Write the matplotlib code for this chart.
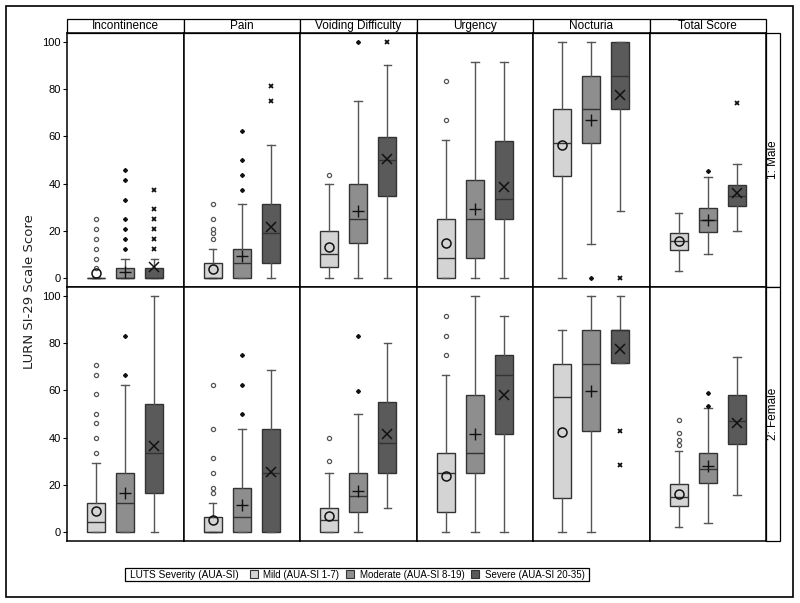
import matplotlib
matplotlib.use("Agg")
import matplotlib.pyplot as plt
from matplotlib.patches import Rectangle, Patch

domains = ["Incontinence", "Pain", "Voiding Difficulty", "Urgency", "Nocturia", "Total Score"]
sexes = ["1: Male", "2: Female"]
severity = ["Mild (AUA-SI 1-7)", "Moderate (AUA-SI 8-19)", "Severe (AUA-SI 20-35)"]

# box stats per domain: [mild, moderate, severe]
male_q1 = [[0, 0, 0], [0, 0, 6.2], [4.8, 15, 34.9], [0, 8.3, 25], [43.2, 57.3, 71.5], [11.9, 19.6, 30.6]]
male_med = [[0, 0, 0], [0, 6.2, 18.9], [10, 25, 50], [8.3, 25, 33.3], [57.3, 71.5, 85.7], [15.8, 24.6, 34.7]]
male_q3 = [[0, 4.1, 4.1], [6.2, 12.4, 31.4], [20.1, 40, 59.9], [25, 41.5, 58.2], [71.5, 85.7, 100], [18.9, 29.5, 39.4]]
male_lo = [[0, 0, 0], [0, 0, 0], [0, 0, 0], [0, 0, 0], [0, 14.3, 28.5], [3.1, 10.2, 19.9]]
male_hi = [[0, 8.2, 8.2], [12.4, 31.4, 56.2], [40, 75.1, 90.3], [58.5, 91.7, 91.7], [100, 100, 100], [27.7, 42.7, 48.4]]
male_mean = [[2, 2.7, 4.5], [3.8, 9.3, 21.6], [13, 28.5, 50.3], [14.7, 29.1, 38.4], [56.2, 67, 77.5], [15.8, 24.6, 35.9]]
male_out = [
    [[24.9, 20.8, 16.7, 12.4, 8.2, 4.1], [12.4, 16.7, 20.8, 24.9, 33.2, 41.5, 45.8], [12.4, 16.7, 20.8, 24.9, 29.1, 37.4]],
    [[16.5, 18.9, 20.8, 24.9, 31.4], [37.4, 43.8, 50, 62.4], [75, 81.4]],
    [[43.8], [100], [100]],
    [[66.8, 83.3], [], []],
    [[], [0], [0]],
    [[], [45.3], [74.3]],
]

female_q1 = [[0, 0, 16.7], [0, 0, 0], [0, 8.3, 24.9], [8.3, 24.9, 41.6], [14.5, 42.8, 71.4], [11, 20.7, 37.4]]
female_med = [[4.2, 12.5, 33.5], [0, 6.3, 24.9], [4.9, 15.2, 37.6], [24.9, 33.3, 66.7], [57.1, 71.2, 85.7], [14.8, 26.7, 47.1]]
female_q3 = [[12.5, 24.9, 54.1], [6.3, 18.8, 43.7], [10, 24.9, 55], [33.3, 58.2, 74.8], [71.2, 85.7, 85.7], [20.4, 33.5, 58.2]]
female_lo = [[0, 0, 0], [0, 0, 0], [0, 0, 10.1], [0, 0, 0], [0, 0, 71.4], [2.1, 3.9, 15.8]]
female_hi = [[29.1, 62.4, 100], [12.5, 43.7, 68.6], [24.9, 50.1, 79.9], [66.5, 100, 91.6], [85.7, 100, 100], [34.3, 52.5, 74]]
female_mean = [[8.9, 16.7, 36.6], [4.9, 11.5, 25.6], [6.8, 17.3, 41.4], [23.9, 41.4, 57.9], [42.3, 59.8, 77.5], [16.3, 27.8, 46.3]]
female_out = [
    [[33.5, 39.8, 46, 50.1, 58.4, 66.7, 70.7], [66.7, 83.1], []],
    [[16.7, 18.7, 24.9, 31.2, 43.7, 62.4], [50.1, 62.4, 74.8], []],
    [[30.1, 39.9], [59.9, 83.1], []],
    [[74.8, 83.1, 91.6], [], []],
    [[], [], [42.8, 28.6]],
    [[36.7, 38.8, 41.9, 47.4], [53.6, 58.9], []],
]

colors = ["#d4d4d4", "#8e8e8e", "#5a5a5a"]
edge = "#333333"
mean_style = [dict(marker="o", ms=6.5, mfc="none", mec="#111111", mew=1.1),
              dict(marker="+", ms=8, mec="#111111", mew=1.0),
              dict(marker="x", ms=7, mec="#111111", mew=1.1)]
out_style = [dict(marker="o", ms=3.0, mfc="white", mec="#555555", mew=0.9, ls="none"),
             dict(marker="D", ms=2.0, mfc="#111111", mec="#111111", ls="none"),
             dict(marker="x", ms=2.8, mec="#111111", mew=1.3, ls="none")]

plt.rcParams["font.family"] = ["Liberation Sans", "DejaVu Sans"]
fig = plt.figure(figsize=(8, 6.03), dpi=100)
gs = fig.add_gridspec(2, 6, left=67 / 800, right=766 / 800, top=1 - 33 / 603, bottom=1 - 541 / 603,
                      hspace=0, wspace=0)

data = [(male_q1, male_med, male_q3, male_lo, male_hi, male_mean, male_out),
        (female_q1, female_med, female_q3, female_lo, female_hi, female_mean, female_out)]

for r, (q1, med, q3, lo, hi, mn, out) in enumerate(data):
    for c, dom in enumerate(domains):
        ax = fig.add_subplot(gs[r, c])
        for k in range(3):
            st = dict(q1=q1[c][k], med=med[c][k], q3=q3[c][k], whislo=lo[c][k], whishi=hi[c][k],
                      mean=mn[c][k], fliers=out[c][k])
            ax.bxp([st], positions=[k + 1], widths=0.62, capwidths=0.26, patch_artist=True,
                   showmeans=True, showfliers=True,
                   boxprops=dict(facecolor=colors[k], edgecolor=edge, lw=1.0),
                   medianprops=dict(color=edge, lw=1.0),
                   whiskerprops=dict(color="#555555", lw=1.0),
                   capprops=dict(color="#555555", lw=1.0),
                   meanprops=dict(ls="none", **mean_style[k]),
                   flierprops=out_style[k])
        ax.set_xlim(0, 4)
        ax.set_ylim(-3.8, 103.8)
        ax.set_xticks([])
        for s in ax.spines.values():
            s.set_linewidth(1.1)
        if c == 0:
            ax.set_yticks([0, 20, 40, 60, 80, 100])
            ax.tick_params(axis="y", labelsize=8, length=3, pad=1.5)
        else:
            ax.set_yticks([])
        if r == 0:
            ax.add_patch(Rectangle((0, 1), 1, 14 / 254, transform=ax.transAxes, clip_on=False,
                                   facecolor="white", edgecolor="black", lw=0.9))
            ax.text(0.5, 1 + 7 / 254, dom, transform=ax.transAxes, ha="center", va="center",
                    fontsize=8.5)
        if c == 5:
            ax.add_patch(Rectangle((1, 0), 14 / 116.5, 1, transform=ax.transAxes, clip_on=False,
                                   facecolor="white", edgecolor="black", lw=0.9))
            ax.text(1 + 7 / 116.5, 0.5, sexes[r], transform=ax.transAxes, ha="center", va="center",
                    rotation=90, fontsize=8.5)

fig.text(30 / 800, 1 - 292 / 603, "LURN SI-29 Scale Score", rotation=90, ha="center", va="center",
         fontsize=9.5, family="DejaVu Sans", color="#222222")

# legend: title text + entries + frame
fig.text(130 / 800, 1 - 574.5 / 603, "LUTS Severity (AUA-SI)", ha="left", va="center", fontsize=7.3)
handles = [Patch(facecolor=col, edgecolor=edge, lw=0.8) for col in colors]
fig.legend(handles, severity, ncol=3, loc="center left", bbox_to_anchor=(244 / 800, 1 - 574.5 / 603),
           fontsize=7, frameon=False, handlelength=0.8, handleheight=0.8, handletextpad=0.6,
           columnspacing=0.7, borderpad=0.1)
fig.patches.append(Rectangle((125 / 800, 1 - 581 / 603), 464 / 800, 13 / 603, transform=fig.transFigure,
                             facecolor="none", edgecolor="black", lw=0.9))

fig.patches.append(Rectangle((6 / 800, 1 - 597 / 603), 787 / 800, 591 / 603, transform=fig.transFigure,
                             facecolor="none", edgecolor="black", lw=1.2))

fig.savefig("out.png", dpi=100)
